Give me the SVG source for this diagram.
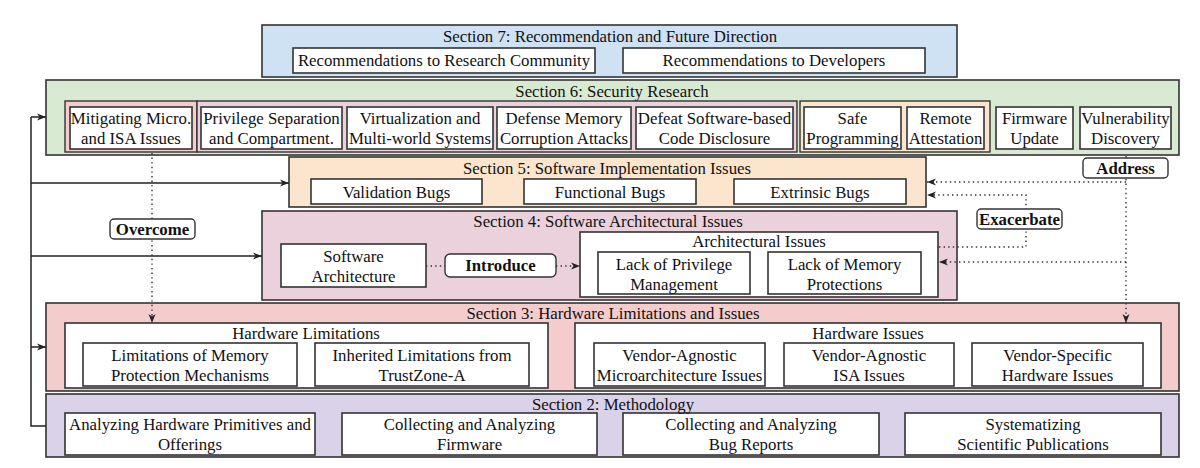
<svg xmlns="http://www.w3.org/2000/svg" width="1200" height="468" viewBox="0 0 1200 468" font-family="'Liberation Serif', 'Times New Roman', Tinos, 'DejaVu Serif', serif">
<style>
text{font-family:'Liberation Serif','Times New Roman',Tinos,'DejaVu Serif',serif;font-size:16.8px;fill:#111;text-anchor:middle}
.b{font-weight:bold}
.sec{stroke:#333;stroke-width:1.6}
.box{fill:#fff;stroke:#333;stroke-width:1.6}
.grp{stroke:#333;stroke-width:1.4}
.lbl{fill:#fff;stroke:#333;stroke-width:1.4}
.ln{fill:none;stroke:#222;stroke-width:1.5}
.dt{fill:none;stroke:#333;stroke-width:1.4;stroke-dasharray:1.4 3.2}
</style>
<defs>
<marker id="ah" markerUnits="userSpaceOnUse" markerWidth="10" markerHeight="8" refX="9" refY="4" orient="auto">
<path d="M0,0.5 L9,4 L0,7.5 L2.5,4 z" fill="#222"/>
</marker>
</defs>

<g id="sec7">
<rect class="sec" x="262" y="25" width="695" height="52" fill="#cfe2f3"/>
<text x="610" y="42">Section 7: Recommendation and Future Direction</text>
<rect class="box" x="293" y="48" width="302" height="25"/>
<text x="444" y="66">Recommendations to Research Community</text>
<rect class="box" x="623" y="48" width="302" height="25"/>
<text x="774" y="66">Recommendations to Developers</text>
</g>

<g id="sec6">
<rect class="sec" x="46" y="80" width="1133" height="75" fill="#d9ead3"/>
<text x="612" y="97">Section 6: Security Research</text>
<rect class="grp" x="65" y="101" width="132" height="51" fill="#f4cccc"/>
<rect class="grp" x="197" y="101" width="600" height="51" fill="#ead1dc"/>
<rect class="grp" x="800" y="101" width="190" height="51" fill="#fce5cd"/>
<rect class="box" x="70" y="107" width="122" height="42"/>
<text x="131" y="124">Mitigating Micro.</text><text x="131" y="144">and ISA Issues</text>
<rect class="box" x="201" y="107" width="141" height="42"/>
<text x="271.5" y="124">Privilege Separation</text><text x="271.5" y="144">and Compartment.</text>
<rect class="box" x="347" y="107" width="146" height="42"/>
<text x="420" y="124">Virtualization and</text><text x="420" y="144">Multi-world Systems</text>
<rect class="box" x="497" y="107" width="134" height="42"/>
<text x="564" y="124">Defense Memory</text><text x="564" y="144">Corruption Attacks</text>
<rect class="box" x="636" y="107" width="157" height="42"/>
<text x="714.5" y="124">Defeat Software-based</text><text x="714.5" y="144">Code Disclosure</text>
<rect class="box" x="804" y="107" width="97" height="42"/>
<text x="852.5" y="124">Safe</text><text x="852.5" y="144">Programming</text>
<rect class="box" x="907" y="107" width="77" height="42"/>
<text x="945.5" y="124">Remote</text><text x="945.5" y="144">Attestation</text>
<rect class="box" x="996" y="107" width="77" height="42"/>
<text x="1034.5" y="124">Firmware</text><text x="1034.5" y="144">Update</text>
<rect class="box" x="1080" y="107" width="91" height="42"/>
<text x="1125.5" y="124">Vulnerability</text><text x="1125.5" y="144">Discovery</text>
</g>

<g id="sec5">
<rect class="sec" x="289" y="157" width="637" height="50" fill="#fce5cd"/>
<text x="607" y="174">Section 5: Software Implementation Issues</text>
<rect class="box" x="311" y="179" width="171" height="25"/>
<text x="396.5" y="198">Validation Bugs</text>
<rect class="box" x="524" y="179" width="172" height="25"/>
<text x="610" y="198">Functional Bugs</text>
<rect class="box" x="734" y="179" width="172" height="25"/>
<text x="820" y="198">Extrinsic Bugs</text>
</g>

<g id="sec4">
<rect class="sec" x="262" y="211" width="695" height="89" fill="#ead1dc"/>
<text x="608" y="227">Section 4: Software Architectural Issues</text>
<rect class="box" x="281" y="244" width="145" height="43"/>
<text x="353.5" y="262">Software</text><text x="353.5" y="282">Architecture</text>
<rect class="box" x="580" y="232" width="358" height="65"/>
<text x="759" y="247">Architectural Issues</text>
<rect class="box" x="598" y="252" width="152" height="42"/>
<text x="674" y="270">Lack of Privilege</text><text x="674" y="290">Management</text>
<rect class="box" x="768" y="252" width="153" height="42"/>
<text x="844.5" y="270">Lack of Memory</text><text x="844.5" y="290">Protections</text>
</g>

<g id="sec3">
<rect class="sec" x="46" y="303" width="1133" height="88" fill="#f4cccc"/>
<text x="613" y="319">Section 3: Hardware Limitations and Issues</text>
<rect class="box" x="65" y="323" width="483" height="65"/>
<text x="306" y="339">Hardware Limitations</text>
<rect class="box" x="83" y="343" width="214" height="43"/>
<text x="190" y="361">Limitations of Memory</text><text x="190" y="381">Protection Mechanisms</text>
<rect class="box" x="315" y="343" width="214" height="43"/>
<text x="422" y="361">Inherited Limitations from</text><text x="422" y="381">TrustZone-A</text>
<rect class="box" x="575" y="323" width="586" height="65"/>
<text x="868" y="339">Hardware Issues</text>
<rect class="box" x="594" y="343" width="171" height="43"/>
<text x="679.5" y="361">Vendor-Agnostic</text><text x="679.5" y="381">Microarchitecture Issues</text>
<rect class="box" x="784" y="343" width="170" height="43"/>
<text x="869" y="361">Vendor-Agnostic</text><text x="869" y="381">ISA Issues</text>
<rect class="box" x="972" y="343" width="171" height="43"/>
<text x="1057.5" y="361">Vendor-Specific</text><text x="1057.5" y="381">Hardware Issues</text>
</g>

<g id="sec2">
<rect class="sec" x="46" y="394" width="1133" height="63" fill="#d9d2e9"/>
<rect class="box" x="65" y="413" width="250" height="42"/>
<text x="190" y="430">Analyzing Hardware Primitives and</text><text x="190" y="450">Offerings</text>
<rect class="box" x="342" y="413" width="255" height="42"/>
<text x="469.5" y="430">Collecting and Analyzing</text><text x="469.5" y="450">Firmware</text>
<rect class="box" x="623" y="413" width="256" height="42"/>
<text x="751" y="430">Collecting and Analyzing</text><text x="751" y="450">Bug Reports</text>
<rect class="box" x="905" y="413" width="256" height="42"/>
<text x="1033" y="430">Systematizing</text><text x="1033" y="450">Scientific Publications</text>
<text x="613" y="410">Section 2: Methodology</text>
</g>

<g id="connectors">
<path class="ln" d="M46,426 H31 V117"/>
<path class="ln" d="M31,117 H46" marker-end="url(#ah)"/>
<path class="ln" d="M31,183 H289" marker-end="url(#ah)"/>
<path class="ln" d="M31,256 H262" marker-end="url(#ah)"/>
<path class="ln" d="M31,347 H46" marker-end="url(#ah)"/>
<path class="dt" d="M152,153 V323" marker-end="url(#ah)"/>
<path class="dt" d="M426,266 H445"/>
<path class="dt" d="M556,266 H580" marker-end="url(#ah)"/>
<path class="dt" d="M1126,156 V323" marker-end="url(#ah)"/>
<path class="dt" d="M1126,182 H927" marker-end="url(#ah)"/>
<path class="dt" d="M1126,262 H939" marker-end="url(#ah)"/>
<path class="dt" d="M939,247 H1026 V195 H927" marker-end="url(#ah)"/>
</g>

<g id="label-overcome">
<rect class="lbl" x="110" y="219" width="85" height="20" rx="4"/>
<text class="b" x="152.5" y="235">Overcome</text>
</g>
<g id="label-introduce">
<rect class="lbl" x="445" y="254" width="111" height="23" rx="5"/>
<text class="b" x="500.5" y="271">Introduce</text>
</g>
<g id="label-address">
<rect class="lbl" x="1083" y="158" width="85" height="20" rx="4"/>
<text class="b" x="1125.5" y="174">Address</text>
</g>
<g id="label-exacerbate">
<rect class="lbl" x="977" y="209" width="85" height="20" rx="4"/>
<text class="b" x="1019.5" y="225">Exacerbate</text>
</g>
</svg>
